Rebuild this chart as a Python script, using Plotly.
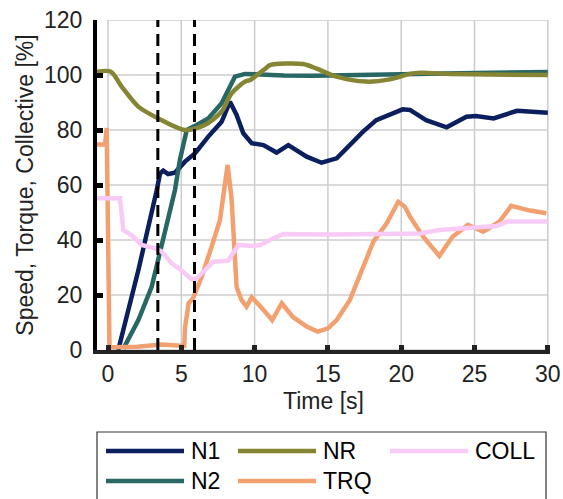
import plotly.graph_objects as go

# ---------------- data ----------------
t_N1 = [0.7, 2.07, 3.32, 3.55, 3.77, 4.1, 4.57, 5.25, 5.93, 6.84, 7.75, 8.32, 8.77, 9.23, 9.8,
        10.6, 11.5, 12.3, 13.55, 14.57, 15.6, 16.5, 17.4, 18.3, 19.2, 20.1, 20.6, 21.7, 23.1,
        24.45, 25.1, 26.3, 27.9, 29.0, 30.0]
v_N1 = [0, 29, 58, 64.2, 65.2, 64, 64.5, 68.5, 71.5, 77.6, 83, 90.3, 85.5, 78.8, 75.2,
        74.5, 71.8, 74.5, 70.3, 68.1, 69.7, 74.5, 79.4, 83.6, 85.5, 87.5, 87.3, 83.6, 81,
        84.8, 85.1, 84.2, 87, 86.7, 86.3]

t_N2 = [1.05, 2.07, 2.98, 3.66, 4.23, 4.57, 4.9, 5.37, 5.93, 6.84, 7.75, 8.2, 8.66, 9.34,
        10.7, 12.0, 14.0, 16.0, 18.0, 20.0, 22.0, 24.0, 26.0, 28.0, 30.0]
v_N2 = [0.5, 10.9, 23, 37.6, 50.9, 58.2, 69, 80, 81.5, 84.2, 89.7, 94.5, 99.4, 100.4,
        100, 99.8, 99.7, 100, 100, 100.6, 100.5, 100.6, 100.8, 100.8, 101.1]

t_NR = [-0.75, 0.2, 0.93, 2.07, 3.43, 5.25, 6.6, 7.75, 8.43, 9.34, 9.7, 10.7, 11.05, 13.3,
        14.2, 15.6, 17.6, 19.2, 20.6, 21.3, 23.3, 26.0, 30.0]
v_NR = [101.2, 101.2, 95.8, 88.5, 84.2, 80, 81.8, 86.7, 93.3, 97.6, 98.2, 102.2, 103.6, 104,
        102.4, 99.4, 97.6, 98.4, 100.4, 100.8, 100.4, 100.2, 100]

t_TRQ = [-0.75, -0.3, -0.2, -0.09, 0.1, 0.25, 2.0, 3.66, 5.2, 5.25, 5.5, 5.8, 6.4, 7.07, 7.64,
         8.16, 8.43, 8.77, 9.1, 9.45, 9.8, 10.4, 11.2, 11.85, 12.6, 13.55, 14.3, 15.0, 15.6,
         16.5, 17.4, 18.1, 19.0, 19.8, 20.25, 20.6, 21.5, 22.6, 23.5, 24.55, 25.6, 26.7,
         27.5, 28.8, 29.9]
v_TRQ = [74.7, 74.7, 74.7, 80.7, 1.2, 1.0, 1.2, 2.0, 1.5, 8, 17, 18.8, 26.7, 37.6, 47.3,
         67.3, 55, 23, 18.2, 15.8, 19.2, 15.8, 10.9, 17, 12.1, 8.5, 6.7, 7.9, 10.9,
         18.2, 30.3, 39.4, 46, 53.9, 52.1, 48.5, 41.2, 34.2, 41.2, 45.5, 43, 46.7,
         52.4, 50.7, 49.7]

t_COLL = [-0.75, 0.82, 1.05, 1.6, 2.3, 3.2, 3.66, 4.34, 5.0, 5.7, 6.05, 6.6, 7.18, 8.2, 8.66,
          8.9, 9.8, 10.4, 11.05, 11.95, 15.0, 18.0, 21.3, 22.6, 24.45, 26.5, 27.2, 30.0]
v_COLL = [55.2, 55.2, 43.6, 41.8, 38.2, 37, 35.8, 31.5, 29, 25.7, 26, 29, 32.1, 32.5, 35.8,
          38.2, 37.8, 38.2, 40, 42.2, 42, 42, 42.4, 43.6, 44.5, 45.1, 46.7, 46.7]

series_names = ["N1", "N2", "NR", "TRQ", "COLL"]
series_colors = ["#0b1e5e", "#286764", "#868533", "#f3a070", "#f8caf6"]
series_shape = ["linear", "linear", "spline", "linear", "linear"]
series_t = [t_N1, t_N2, t_NR, t_TRQ, t_COLL]
series_v = [v_N1, v_N2, v_NR, v_TRQ, v_COLL]

event_times = [3.4, 5.9]
x_ticks = [0, 5, 10, 15, 20, 25, 30]
y_ticks = [0, 20, 40, 60, 80, 100, 120]

FONT = "Liberation Sans, Arial, sans-serif"
FS = 23

fig = go.Figure()

# grid (only inside the 0..30 box)
shapes = []
for xt in x_ticks:
    shapes.append(dict(type="line", xref="x", yref="y", x0=xt, x1=xt, y0=0, y1=120,
                       line=dict(color="#cccccc", width=1.5), layer="below"))
for yt in y_ticks:
    shapes.append(dict(type="line", xref="x", yref="y", x0=0, x1=30, y0=yt, y1=yt,
                       line=dict(color="#cccccc", width=1.5), layer="below"))
for et in event_times:
    shapes.append(dict(type="line", xref="x", yref="y", x0=et, x1=et, y0=0, y1=120,
                       line=dict(color="black", width=3, dash="12px,7px"), layer="above"))

for name, color, shp, tt, vv in zip(series_names, series_colors, series_shape, series_t, series_v):
    fig.add_trace(go.Scatter(x=tt, y=vv, mode="lines", name=name,
                             line=dict(color=color, width=4.5, shape=shp, smoothing=0.8),
                             showlegend=False))

# custom legend (box, sample lines, labels)
W, H = 563, 499
L, R, T, B = 97, 13, 20, 149
pw, ph = W - L - R, H - T - B

def px(xp):
    return (xp - L) / pw

def py(yp):
    return (H - B - yp) / ph

shapes.append(dict(type="rect", xref="paper", yref="paper", x0=px(97), x1=px(546),
                   y0=py(505), y1=py(432), line=dict(color="#333333", width=1.2),
                   fillcolor="white"))
legend_order = ["N1", "NR", "COLL", "N2", "TRQ"]
col_x = [106, 238, 390]
row_y = [451, 481]
annotations = []
for i, nm in enumerate(legend_order):
    r, c = divmod(i, 3)
    color = series_colors[series_names.index(nm)]
    x0 = col_x[c]
    yv = row_y[r]
    shapes.append(dict(type="line", xref="paper", yref="paper", x0=px(x0), x1=px(x0 + 78),
                       y0=py(yv), y1=py(yv), line=dict(color=color, width=4.5)))
    annotations.append(dict(xref="paper", yref="paper", x=px(x0 + 83), y=py(yv),
                            text=nm, showarrow=False, xanchor="left", yanchor="middle",
                            font=dict(family=FONT, size=FS, color="black")))

fig.update_layout(
    width=W, height=H,
    margin=dict(l=L, r=R, t=T, b=B, autoexpand=False),
    plot_bgcolor="white", paper_bgcolor="white",
    shapes=shapes, annotations=annotations,
    font=dict(family=FONT, size=FS, color="#222222"),
    xaxis=dict(range=[-0.75, 30.15], tickvals=x_ticks, showgrid=False, zeroline=False,
               automargin=False,
               showline=True, linecolor="#222222", linewidth=4,
               ticks="inside", ticklen=5, tickwidth=5, tickcolor="#222222",
               title=dict(text="Time [s]", standoff=8, font=dict(size=FS)),
               tickfont=dict(size=FS, color="#222222")),
    yaxis=dict(range=[0, 120], tickvals=y_ticks, showgrid=False, zeroline=False,
               automargin=False,
               showline=True, linecolor="black", linewidth=4,
               ticks="inside", ticklen=6, tickwidth=5, tickcolor="black",
               ticklabelstandoff=6,
               title=dict(text="Speed, Torque, Collective [%]", standoff=5, font=dict(size=FS)),
               tickfont=dict(size=FS, color="#222222")),
)

fig.write_html("out.html")
